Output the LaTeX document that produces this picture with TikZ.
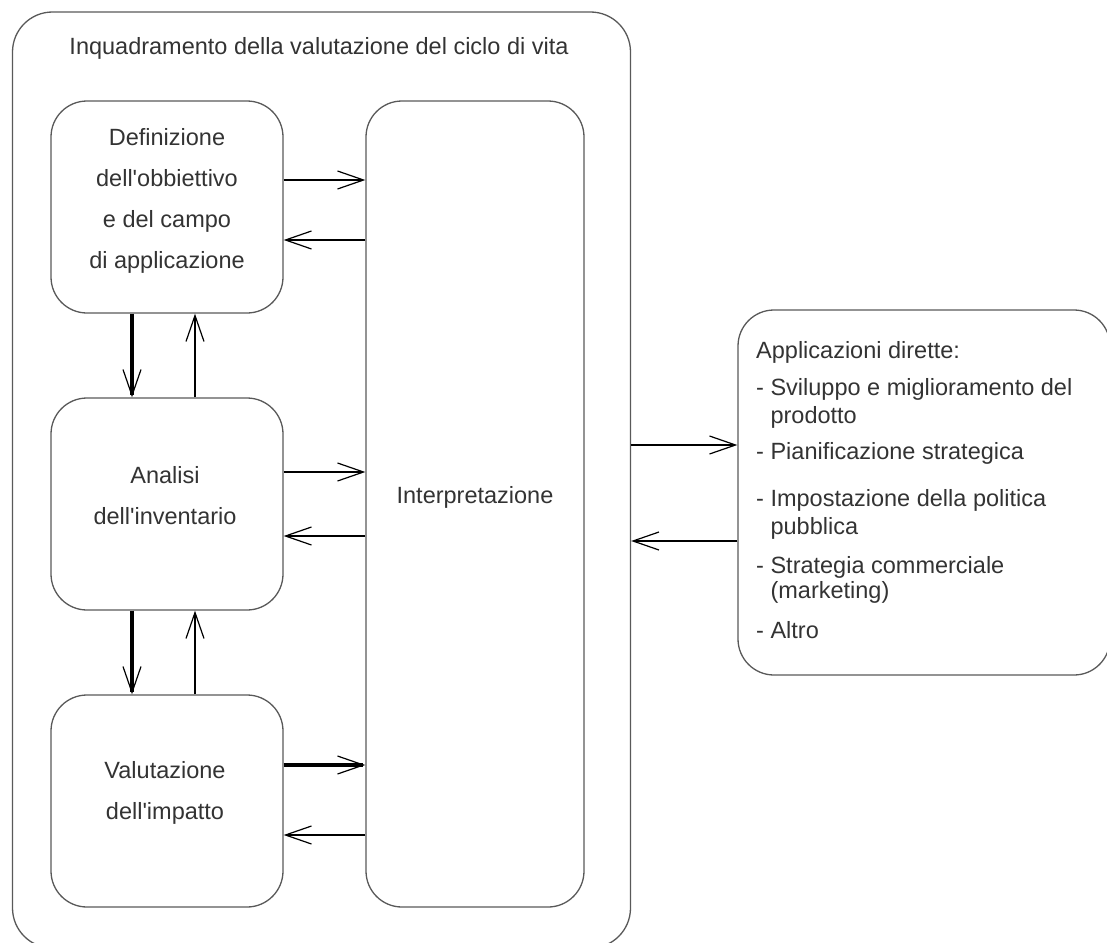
\documentclass[tikz,border=0pt]{standalone}
\usepackage{fontspec}
\setmainfont{Liberation Sans}
\usetikzlibrary{arrows.meta}
\begin{document}
\begin{tikzpicture}[x=1pt,y=-1pt,
  box/.style={draw=black!65, line width=1.3pt, rounded corners=36pt, inner sep=0pt},
  lbl/.style={font=\fontsize{23.5}{41}\selectfont, text=black!80, align=center, inner sep=0pt},
  conn/.style={line width=1.4pt, -{Straight Barb[length=26pt,width=18pt,line width=1.2pt]}},
  heavyconn/.style={conn, line width=3.4pt}]
\useasboundingbox (0,0) rectangle (1107,942);
% outer frame
\node[box, rounded corners=40pt, minimum width=618pt, minimum height=936pt] (frame) at (321.5,480) {};
\node[lbl] (title) at (319,48) {Inquadramento della valutazione del ciclo di vita};
% boxes
\node[box, minimum width=232pt, minimum height=212pt] (def) at (167,207) {};
\node[box, minimum width=232pt, minimum height=212pt] (ana) at (167,504) {};
\node[box, minimum width=232pt, minimum height=212pt] (val) at (167,801) {};
\node[box, minimum width=218pt, minimum height=806pt] (interp) at (475,504) {};
\node[box, minimum width=372pt, minimum height=365pt] (app) at (924,492.5) {};
% labels
\node[lbl] (deftext) at (167,201) {Definizione\\dell\textquotesingle obbiettivo\\e del campo\\di applicazione};
\node[lbl] (anatext) at (165,496) {Analisi\\dell\textquotesingle inventario};
\node[lbl] (valtext) at (165,793) {Valutazione\\dell\textquotesingle impatto};
\node[lbl] (interptext) at (475,497) {Interpretazione};
\node[lbl, font=\fontsize{23.5}{27}\selectfont, align=left, anchor=north west] (apptext) at (756,341)
  {Applicazioni dirette:\\[10pt]
   - Sviluppo e miglioramento del\\[1pt]
   \phantom{- }prodotto\\[9pt]
   - Pianificazione strategica\\[20pt]
   - Impostazione della politica\\[1pt]
   \phantom{- }pubblica\\[12pt]
   - Strategia commerciale\\[-2pt]
   \phantom{- }(marketing)\\[13pt]
   - Altro};
% horizontal connectors
\draw[conn] (def.east |- 0,180) -- (interp.west |- 0,180);
\draw[conn] (interp.west |- 0,240) -- (def.east |- 0,240);
\draw[conn] (ana.east |- 0,472) -- (interp.west |- 0,472);
\draw[conn] (interp.west |- 0,536) -- (ana.east |- 0,536);
\draw[heavyconn] (val.east |- 0,765) -- (interp.west |- 0,765);
\draw[conn] (interp.west |- 0,835) -- (val.east |- 0,835);
% vertical connectors
\draw[heavyconn] (def.south -| 132,0) -- (ana.north -| 132,0);
\draw[conn] (ana.north -| 195,0) -- (def.south -| 195,0);
\draw[heavyconn] (ana.south -| 132,0) -- (val.north -| 132,0);
\draw[conn] (val.north -| 195,0) -- (ana.south -| 195,0);
% to/from applications
\draw[conn] (frame.east |- 0,445) -- (app.west |- 0,445);
\draw[conn] (app.west |- 0,541) -- (frame.east |- 0,541);
\end{tikzpicture}
\end{document}
